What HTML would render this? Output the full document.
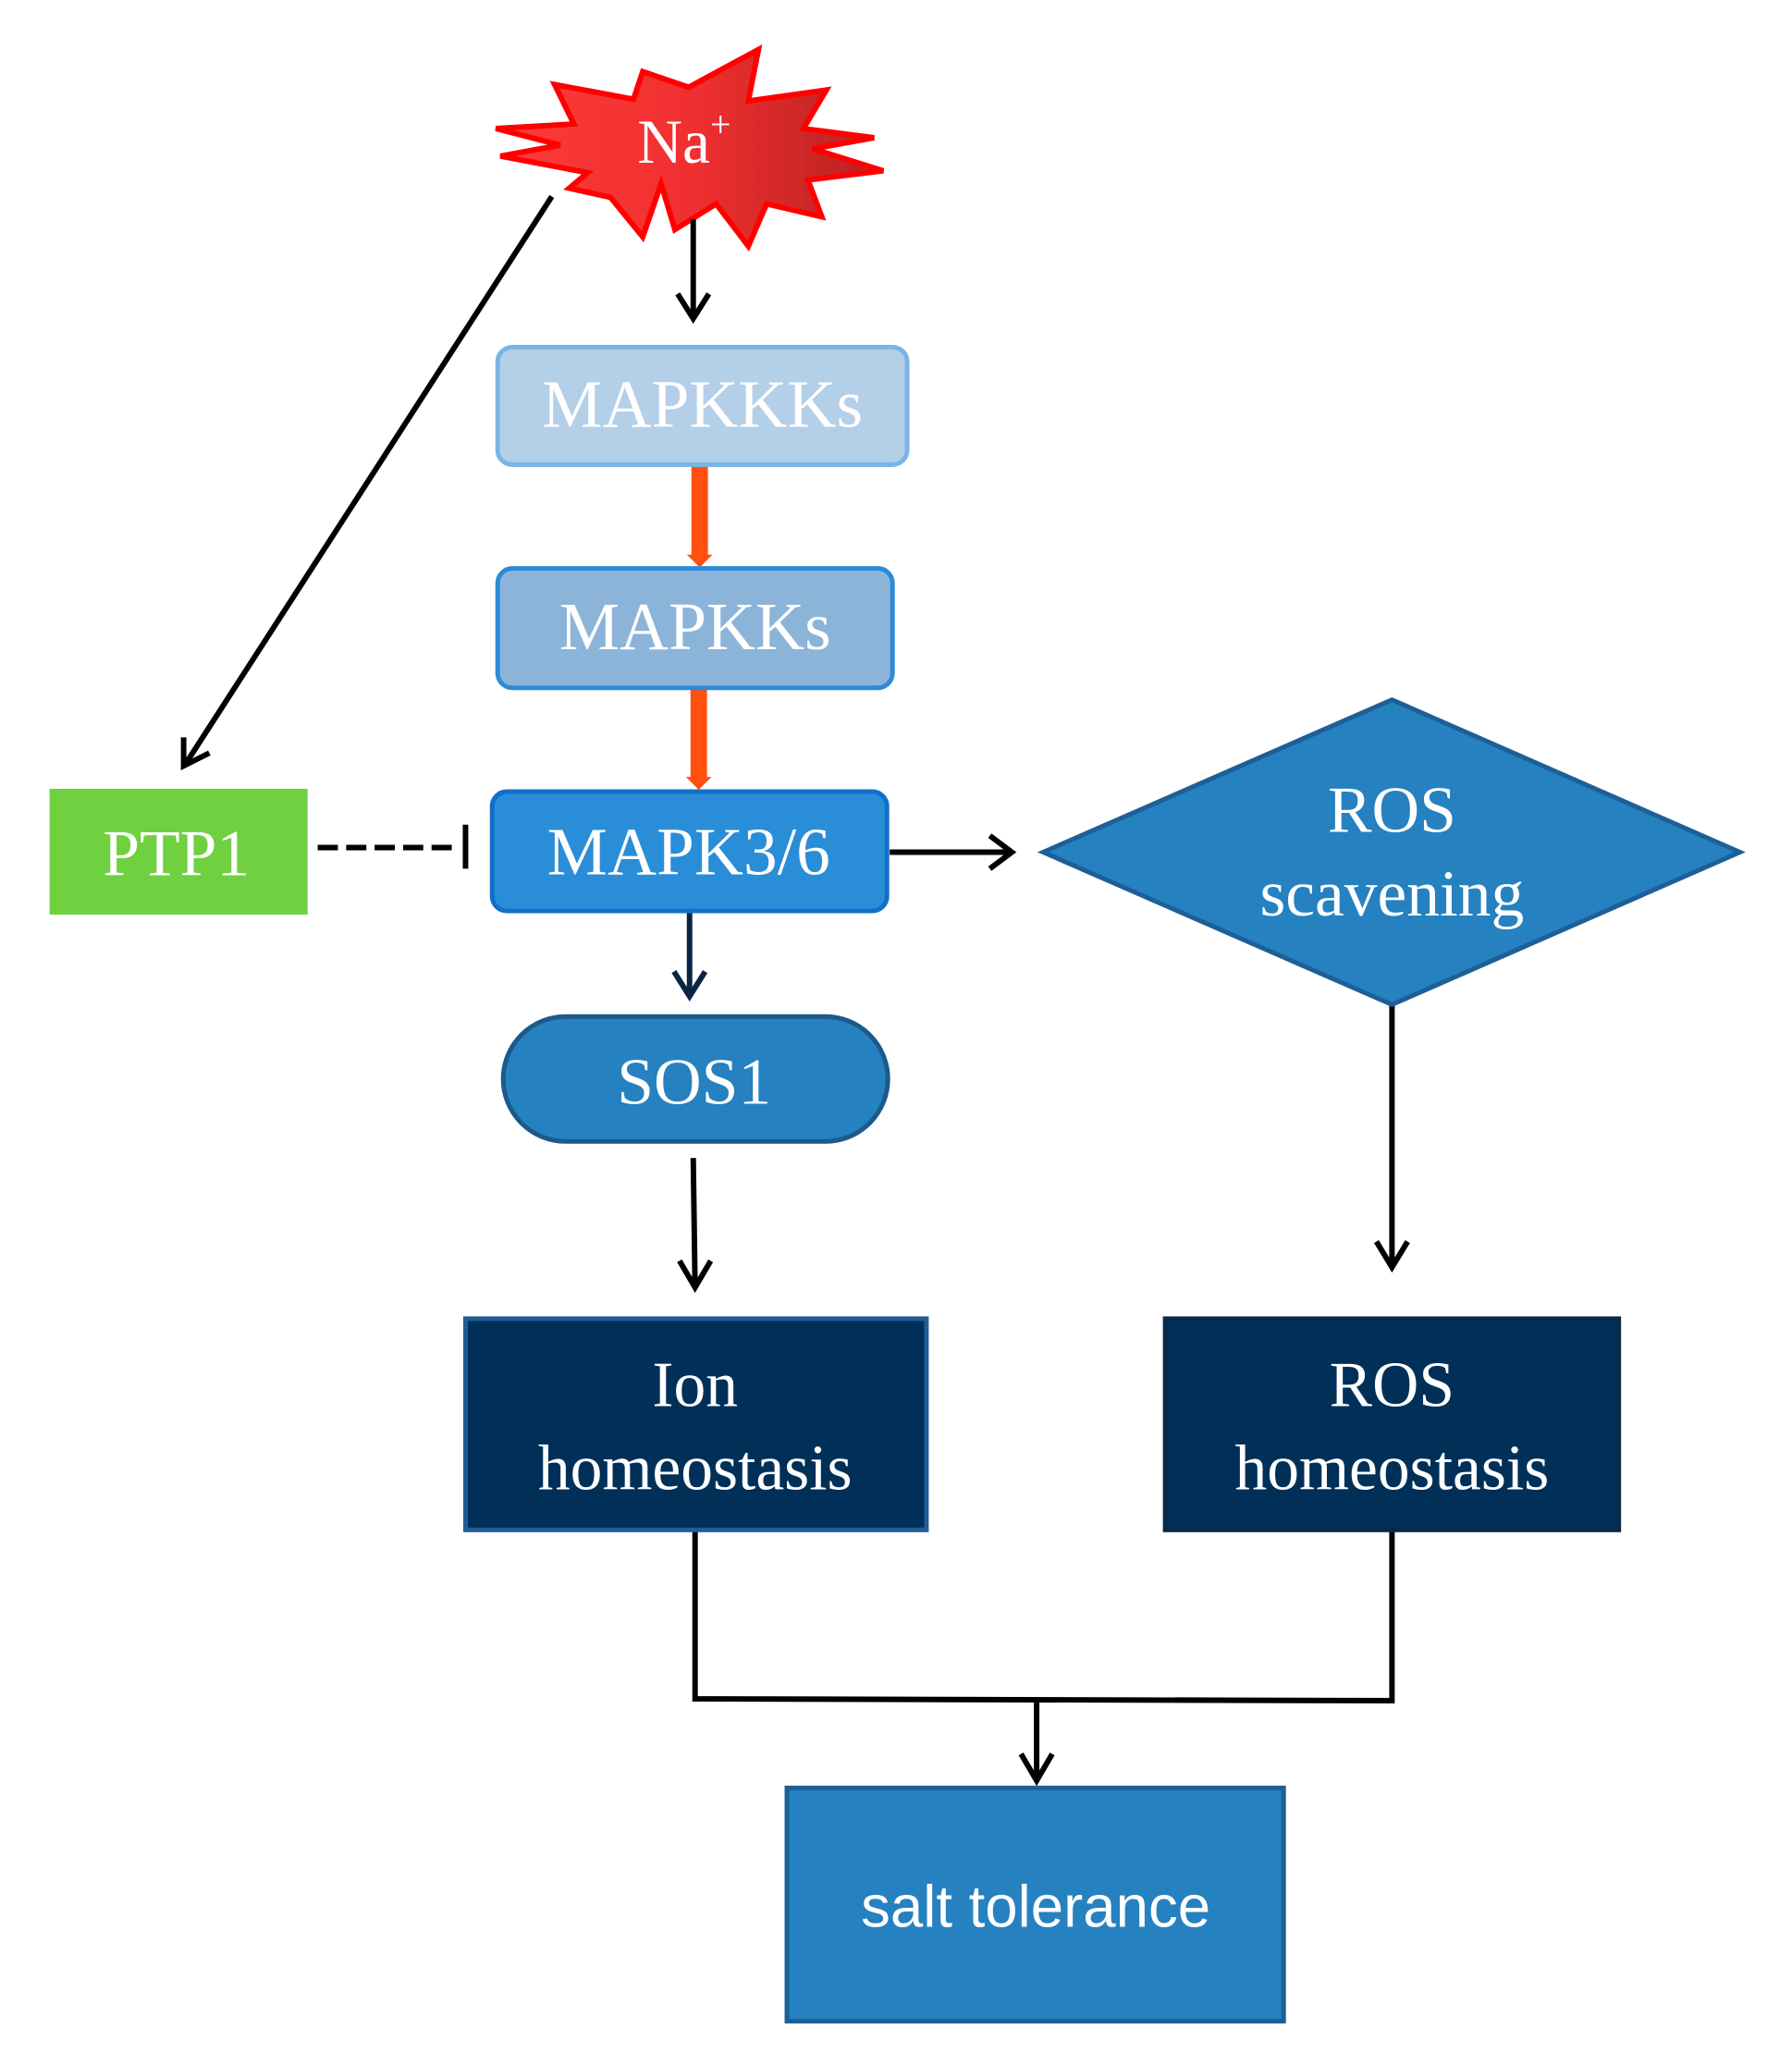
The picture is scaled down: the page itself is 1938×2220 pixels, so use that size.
<!DOCTYPE html>
<html><head><style>
html,body{margin:0;padding:0;background:#fff;}
svg{display:block;}
.s{font-family:"Liberation Serif",serif;fill:#fff;text-anchor:middle;}
</style></head><body>
<svg width="1938" height="2220" viewBox="0 0 1938 2220" xmlns="http://www.w3.org/2000/svg">
<defs>
<linearGradient id="rg" x1="0" x2="1" y1="0" y2="0">
<stop offset="0" stop-color="#ff3a3a"/><stop offset="0.5" stop-color="#f03030"/><stop offset="1" stop-color="#b82020"/>
</linearGradient>
</defs>
<g transform="scale(0.993)">
<polygon points="540,140 625,135 604,92 690,108 700,78 750,95 826,54 815,110 900,98 875,140 952,150 885,162 962,186 880,196 895,236 835,222 815,268 780,222 735,250 720,200 700,258 665,215 620,205 640,188 545,170 610,158" fill="url(#rg)" stroke="#ff0000" stroke-width="6" stroke-linejoin="miter"/>
<text class="s" x="745" y="177" font-size="68">Na<tspan font-size="40" dy="-28">+</tspan></text>

<g stroke="#000" stroke-width="6" fill="none">
<line x1="755" y1="239" x2="755" y2="347"/>
<polyline points="738,320 755,347 772,320"/>
<line x1="601" y1="214" x2="202" y2="832"/>
<polyline points="200,803 200,834 228,820"/>
<line x1="969" y1="928" x2="1100" y2="928"/>
<polyline points="1078,910 1102,928 1078,946"/>
<line x1="755" y1="1261" x2="757" y2="1402"/>
<polyline points="740,1373 757,1402 774,1373"/>
<line x1="1516" y1="1094" x2="1516" y2="1380"/>
<polyline points="1499,1352 1516,1380 1533,1352"/>
<polyline points="757,1667 757,1850 1516,1852 1516,1667"/>
<line x1="1129" y1="1852" x2="1129" y2="1939"/>
<polyline points="1112,1910 1129,1939 1146,1910"/>
<line x1="346" y1="923" x2="500" y2="923" stroke-dasharray="22,9" stroke-width="6"/>
<line x1="507" y1="898" x2="507" y2="946" stroke-width="6"/>
</g>
<line x1="751" y1="993" x2="751" y2="1085" stroke="#0a2545" stroke-width="6"/>
<polyline points="734,1058 751,1085 768,1058" stroke="#0a2545" stroke-width="6" fill="none"/>

<rect x="753" y="507" width="18" height="100" fill="#ff5010"/>
<polygon points="748,604 776,604 762,618" fill="#ff5010"/>
<rect x="752" y="750" width="18" height="98" fill="#ff5010"/>
<polygon points="747,846 775,846 761,860" fill="#ff5010"/>

<rect x="542" y="378" width="446" height="128" rx="16" fill="#b4cfe8" stroke="#7cb4e6" stroke-width="5"/>
<text class="s" x="765" y="465" font-size="74">MAPKKKs</text>
<rect x="542" y="619" width="430" height="130" rx="16" fill="#8cb4d9" stroke="#2e8ad6" stroke-width="5"/>
<text class="s" x="757" y="707" font-size="74">MAPKKs</text>
<rect x="536" y="862" width="430" height="130" rx="16" fill="#2a8dd8" stroke="#1070c8" stroke-width="5"/>
<text class="s" x="750" y="952" font-size="74">MAPK3/6</text>

<rect x="54" y="859" width="281" height="137" fill="#6fd040"/>
<text class="s" x="192" y="953" font-size="72">PTP1</text>

<polygon points="1136,928 1516,762 1895,928 1516,1094" fill="#2581c0" stroke="#1d5f96" stroke-width="5"/>
<text class="s" x="1516" y="906" font-size="72">ROS</text>
<text class="s" x="1516" y="997" font-size="72">scavening</text>

<rect x="548" y="1107" width="419" height="136" rx="68" fill="#2581c0" stroke="#1b5a8a" stroke-width="5"/>
<text class="s" x="756" y="1202" font-size="72">SOS1</text>

<rect x="507" y="1436" width="502" height="230" fill="#003058" stroke="#1f5d96" stroke-width="5"/>
<text class="s" x="757" y="1531" font-size="70">Ion</text>
<text class="s" x="757" y="1622" font-size="70">homeostasis</text>
<rect x="1269" y="1436" width="494" height="230" fill="#003058" stroke="#0a2848" stroke-width="5"/>
<text class="s" x="1516" y="1531" font-size="70">ROS</text>
<text class="s" x="1516" y="1622" font-size="70">homeostasis</text>

<rect x="857" y="1947" width="541" height="254" fill="#2581c0" stroke="#1d5f96" stroke-width="5"/>
<text x="1128" y="2098" font-size="64" fill="#fff" text-anchor="middle" font-family="Liberation Sans, sans-serif">salt tolerance</text>
</g>
</svg>
</body></html>
